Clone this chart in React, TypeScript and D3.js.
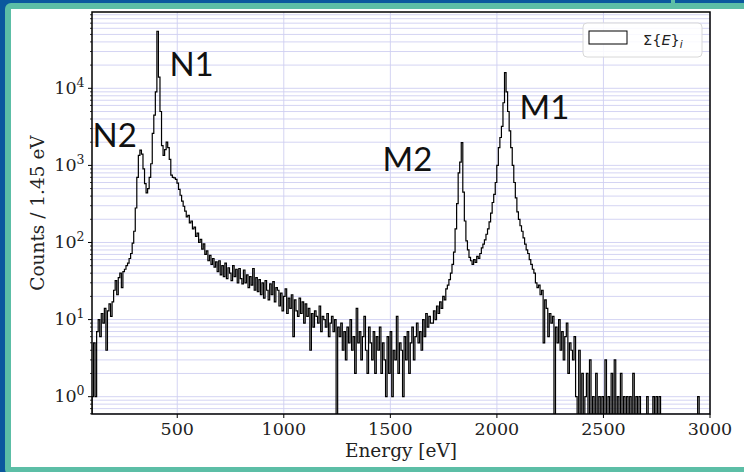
import React from "react";
import * as d3 from "d3";

// Histogram: bins start at 100 eV, width 7.25 eV (5 x 1.45 eV), 400 bins to 3000 eV
const BIN_START = 100;
const BIN_WIDTH = 7.25;
const counts: number[] = [
  // 100 - 245
  1, 5, 1, 7, 10, 6, 12, 9, 14, 4, 13, 16, 11, 17, 24, 32, 21, 35, 40, 26,
  // 245 - 390
  42, 45, 50, 54, 62, 72, 98, 140, 280, 700, 1350, 1580, 1400, 900, 580, 440, 500, 700, 1050, 2600,
  // 390 - 535
  4500, 9000, 55000, 14000, 5000, 1800, 1350, 1600, 2000, 1700, 1200, 750, 700, 690, 660, 590, 490, 410, 345, 295,
  // 535 - 680
  255, 215, 225, 180, 190, 150, 158, 120, 132, 100, 110, 82, 96, 70, 78, 58, 68, 52, 62, 48,
  // 680 - 825
  56, 42, 58, 38, 50, 36, 54, 34, 47, 40, 32, 50, 36, 45, 30, 46, 34, 29, 44, 30,
  // 825 - 970
  38, 26, 36, 28, 46, 24, 35, 23, 33, 21, 30, 19, 32, 24, 18, 29, 21, 31, 17, 26,
  // 970 - 1115
  24, 15, 22, 13, 20, 25, 12, 19, 14, 21, 6, 18, 13, 11, 19, 12, 17, 9, 16, 11,
  // 1115 - 1260
  14, 4, 12, 8, 13, 11, 9, 15, 7, 11, 10, 8, 12, 6, 9, 11, 7, 10, 0, 8,
  // 1260 - 1405
  6, 9, 4, 7, 3, 8, 5, 10, 4, 6, 2, 14, 5, 7, 3, 6, 11, 4, 2, 8,
  // 1405 - 1550
  5, 3, 7, 2, 6, 4, 8, 2, 5, 3, 1, 6, 2, 7, 1, 4, 3, 11, 2, 5,
  // 1550 - 1695
  4, 1, 6, 3, 7, 2, 5, 8, 3, 6, 9, 5, 7, 4, 10, 6, 12, 8, 11, 9,
  // 1695 - 1840
  9, 13, 10, 15, 12, 17, 14, 20, 18, 25, 28, 33, 40, 52, 75, 150, 320, 800, 1100, 1970,
  // 1840 - 1985
  450, 190, 105, 80, 64, 58, 52, 60, 55, 66, 62, 72, 85, 95, 108, 128, 150, 185, 240, 330,
  // 1985 - 2130
  420, 600, 1000, 1700, 2300, 3200, 6500, 16000, 9000, 5000, 2800, 1700, 1000, 600, 380, 250, 200, 165, 140, 115,
  // 2130 - 2275
  95, 80, 72, 60, 52, 45, 40, 30, 26, 28, 21, 24, 5, 18, 14, 6, 12, 9, 11, 0,
  // 2275 - 2420
  8, 5, 10, 4, 7, 3, 6, 9, 2, 5, 4, 3, 6, 1, 0, 4, 0, 2, 0, 1,
  // 2420 - 2565
  2, 0, 3, 0, 1, 0, 2, 0, 1, 0, 1, 0, 3, 0, 1, 0, 2, 0, 3, 0,
  // 2565 - 2710
  1, 0, 2, 0, 1, 0, 1, 0, 1, 0, 2, 0, 1, 0, 1, 0, 0, 0, 0, 1,
  // 2710 - 2855
  0, 0, 0, 1, 0, 1, 0, 1, 0, 0, 0, 0, 0, 0, 0, 0, 0, 0, 0, 0,
  // 2855 - 3000
  0, 0, 0, 0, 0, 0, 0, 0, 0, 0, 0, 0, 1, 0, 0, 0, 0, 0, 0, 0,
];

const xDomain = [100, 3000];
const yDomain = [0.596, 97700];
const xTicks = [500, 1000, 1500, 2000, 2500, 3000];
const yTicks = [1, 10, 100, 1000, 10000];
const yTickExponents = ["0", "1", "2", "3", "4"];
const peakLabels = ["N2", "N1", "M2", "M1"];
const peakLabelEnergy = [114, 475, 1475, 2118];
const peakLabelCount = [1735, 14400, 846, 4000];
const xLabel = "Energy [eV]";
const yLabel = "Counts / 1.45 eV";

const W = 744;
const H = 472;
const PL = 92, PT = 12, PR = 710, PB = 414;
const SERIF = "'DejaVu Serif', serif";

export default function App() {
  const x = d3.scaleLinear().domain(xDomain).range([PL, PR]);
  const y = d3.scaleLog().domain(yDomain).range([PB, PT]);
  const yv = (c: number) => (c > 0 ? y(c) : PB + 30);

  const pts: [number, number][] = [[BIN_START, 0]];
  counts.forEach((c, i) => pts.push([BIN_START + i * BIN_WIDTH, c]));
  pts.push([BIN_START + counts.length * BIN_WIDTH, 0]);
  const line = d3
    .line<[number, number]>()
    .x((d) => x(d[0]))
    .y((d) => yv(d[1]))
    .curve(d3.curveStepAfter);

  const gridY: number[] = [];
  const minorY: number[] = [];
  for (let d = -1; d <= 4; d++) {
    for (let m = 1; m <= 9; m++) {
      const v = m * Math.pow(10, d);
      if (v >= yDomain[0] && v <= yDomain[1]) {
        gridY.push(v);
        if (m !== 1) minorY.push(v);
      }
    }
  }

  return (
    <svg width={W} height={H} style={{ position: "absolute", left: 0, top: 0 }}>
      {/* frame */}
      <rect x={0} y={0} width={W} height={H} fill="#0a589e" />
      <rect x={5} y={3} width={W} height={H} rx={6} fill="#5cbea6" />
      <rect x={671} y={0} width={4} height={4} fill="#5cbea6" />
      <rect x={11} y={9} width={W - 11} height={458} fill="#ffffff" />

      <defs>
        <clipPath id="plotclip">
          <rect x={PL} y={PT} width={PR - PL} height={PB - PT} />
        </clipPath>
      </defs>

      {/* grid */}
      <g stroke="#cfcff2" strokeWidth={0.9}>
        {gridY.map((v, i) => (
          <line key={"gy" + i} x1={PL} x2={PR} y1={y(v)} y2={y(v)} />
        ))}
        {xTicks.map((v, i) => (
          <line key={"gx" + i} x1={x(v)} x2={x(v)} y1={PT} y2={PB} />
        ))}
      </g>

      {/* histogram */}
      <path
        d={line(pts) || ""}
        fill="none"
        stroke="#000"
        strokeWidth={1.2}
        clipPath="url(#plotclip)"
      />

      {/* axes frame */}
      <rect x={PL} y={PT} width={PR - PL} height={PB - PT} fill="none" stroke="#000" strokeWidth={1.5} />

      {/* x ticks */}
      {xTicks.map((v, i) => (
        <g key={"xt" + i}>
          <line x1={x(v)} x2={x(v)} y1={PB} y2={PB + 4} stroke="#000" strokeWidth={1} />
          <text x={x(v)} y={435} textAnchor="middle" fontFamily={SERIF} fontSize={17.5} fill="#222">
            {v}
          </text>
        </g>
      ))}

      {/* y ticks */}
      {minorY.map((v, i) => (
        <line key={"ym" + i} x1={PL - 2} x2={PL} y1={y(v)} y2={y(v)} stroke="#000" strokeWidth={0.8} />
      ))}
      {yTicks.map((v, i) => (
        <g key={"yt" + i}>
          <line x1={PL - 4} x2={PL} y1={y(v)} y2={y(v)} stroke="#000" strokeWidth={1} />
          <text x={84.5} y={y(v) + 5.5} textAnchor="end" fontFamily={SERIF} fontSize={17.5} fill="#222">
            10
            <tspan dy={-7} fontSize={12.5}>
              {yTickExponents[i]}
            </tspan>
          </text>
        </g>
      ))}

      {/* axis labels */}
      <text x={(PL + PR) / 2} y={457} textAnchor="middle" fontFamily={SERIF} fontSize={18.5} fill="#222">
        {xLabel}
      </text>
      <text
        transform={`translate(44, ${(PT + PB) / 2}) rotate(-90)`}
        textAnchor="middle"
        fontFamily={SERIF}
        fontSize={18.5}
        fill="#222"
      >
        {yLabel}
      </text>

      {/* legend */}
      <rect x={583} y={23} width={119} height={34} rx={4} fill="#ffffff" fillOpacity={0.85} stroke="#d8d8d8" strokeWidth={1} />
      <rect x={589} y={31} width={38} height={13} fill="#ffffff" stroke="#000" strokeWidth={1} />
      <text x={643} y={45} fontFamily="'DejaVu Sans', sans-serif" fontSize={14.5} fill="#222">
        {"Σ{"}
        <tspan fontStyle="italic">E</tspan>
        {"}"}
        <tspan fontStyle="italic" fontSize={10.5} dy={3}>
          i
        </tspan>
      </text>

      {/* peak labels */}
      {peakLabels.map((t, i) => (
        <text
          key={"pl" + i}
          x={x(peakLabelEnergy[i]) - 2.5}
          y={y(peakLabelCount[i])}
          fontFamily="Lato, sans-serif"
          fontSize={33}
          fill="#111"
        >
          {t}
        </text>
      ))}
    </svg>
  );
}
